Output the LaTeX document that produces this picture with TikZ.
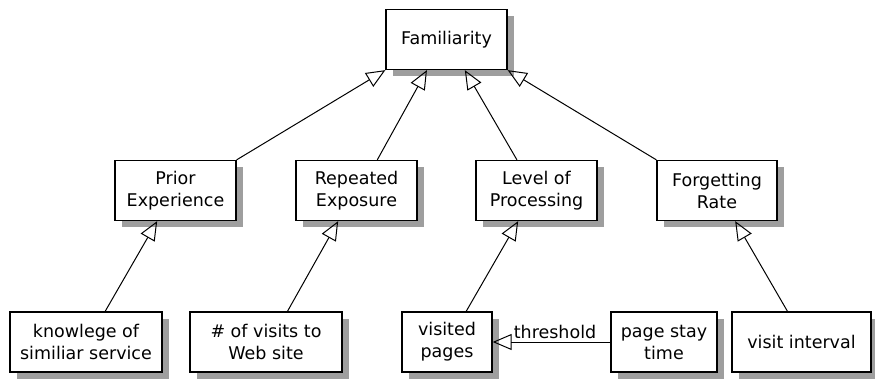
\documentclass[tikz,border=0pt]{standalone}
\usepackage{fontspec}
\setmainfont{DejaVu Sans}
\usetikzlibrary{arrows.meta,shadows,calc}

\begin{document}
\begin{tikzpicture}[x=1pt,y=-1pt,
	box/.style={draw,line width=1.3pt,fill=white,align=center,minimum height=60pt,inner sep=2pt,
		font=\fontsize{17.5}{22}\selectfont,
		drop shadow={shadow xshift=7pt,shadow yshift=-7pt,fill=black!38,opacity=1}},
	isa/.style={-{Triangle[open,length=19pt,width=16pt,line width=1pt]},line width=1pt}]

	\useasboundingbox (0,0) rectangle (875,379);

	\node[box,minimum width=121pt] (fam) at (446.5,39.5) {Familiarity};

	\node[box,minimum width=121pt] (prior) at (175.5,190.5) {Prior\\Experience};
	\node[box,minimum width=121pt] (rep) at (356.5,190.5) {Repeated\\Exposure};
	\node[box,minimum width=121pt] (level) at (536.5,190.5) {Level of\\Processing};
	\node[box,minimum width=120pt] (forget) at (717,190.5) {Forgetting\\Rate};

	\node[box,minimum width=152pt] (know) at (86,342) {knowlege of\\similiar service};
	\node[box,minimum width=152pt] (visits) at (266,342) {\# of visits to\\Web site};
	\node[box,minimum width=90pt] (visited) at (447,342) {visited\\pages};
	\node[box,minimum width=106pt] (stay) at (664,342) {page stay\\time};
	\node[box,minimum width=139pt] (interval) at (801.5,342) {visit interval};

	\foreach \from/\a/\to/\b in {prior/1/fam/0,rep/0.67/fam/0.34,level/0.34/fam/0.65,forget/0/fam/1,
		know/0.625/prior/0.35,visits/0.64/rep/0.35,visited/0.71/level/0.35,interval/0.40/forget/0.65}
		\draw[isa] ($(\from.north west)!\a!(\from.north east)$) -- ($(\to.south west)!\b!(\to.south east)$);

	\draw[isa] (stay.west) -- (visited.east) node[pos=0.47,above,inner sep=3pt,font=\fontsize{17.5}{22}\selectfont]{threshold};
\end{tikzpicture}
\end{document}
